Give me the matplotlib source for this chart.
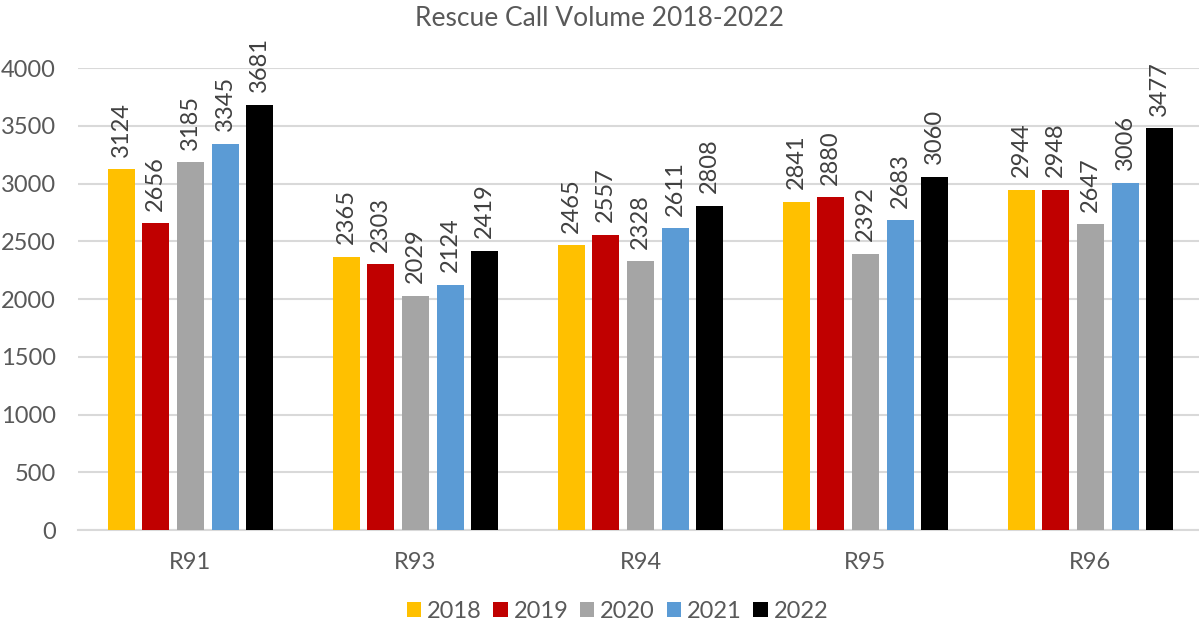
import matplotlib.pyplot as plt
import numpy as np

stations = ['R91', 'R93', 'R94', 'R95', 'R96']
years = ['2018', '2019', '2020', '2021', '2022']
calls_2018 = [3124, 2365, 2465, 2841, 2944]
calls_2019 = [2656, 2303, 2557, 2880, 2948]
calls_2020 = [3185, 2029, 2328, 2392, 2647]
calls_2021 = [3345, 2124, 2611, 2683, 3006]
calls_2022 = [3681, 2419, 2808, 3060, 3477]
colors = ['#FFC000', '#C00000', '#A5A5A5', '#5B9BD5', '#000000']

plt.rcParams['font.family'] = ['Lato', 'DejaVu Sans']
txt = '#595959'

fig = plt.figure(figsize=(11.99, 6.27), dpi=100)
ax = fig.add_axes([0.065, 0.1547, 0.9383, 0.7368])

x = np.arange(len(stations))
pitch = 0.154
width = 0.12
series = [calls_2018, calls_2019, calls_2020, calls_2021, calls_2022]
for i, (yr, vals, c) in enumerate(zip(years, series, colors)):
    pos = x + (i - 2) * pitch
    bars = ax.bar(pos, vals, width, color=c, label=yr, zorder=3)
    for b, v in zip(bars, vals):
        ax.annotate(str(v), xy=(b.get_x() + b.get_width() / 2, v),
                    xytext=(0, 9), textcoords='offset points',
                    rotation=90, ha='center', va='bottom',
                    fontsize=17, color='#404040')

ax.set_xlim(-0.5, 4.5)
ax.set_ylim(0, 4000)
ax.set_yticks(range(0, 4001, 500))
ax.set_xticks(x)
ax.set_xticklabels(stations)
ax.tick_params(axis='both', length=0, labelsize=17, labelcolor=txt)
ax.tick_params(axis='x', pad=16)
ax.tick_params(axis='y', pad=16)
ax.grid(axis='y', color='#D9D9D9', linewidth=1.5, zorder=0)
for s in ['top', 'right', 'left']:
    ax.spines[s].set_visible(False)
ax.spines['bottom'].set_color('#D9D9D9')
ax.spines['bottom'].set_linewidth(1.5)

fig.text(0.5, 0.97, 'Rescue Call Volume 2018-2022', ha='center', va='center',
         fontsize=19, color=txt)

fig.legend(loc='center', bbox_to_anchor=(0.515, 0.025), ncol=5, frameon=False,
           fontsize=17, labelcolor=txt, handlelength=0.6, handleheight=0.6,
           handletextpad=0.25, columnspacing=0.5)

fig.savefig('out.png', dpi=100)
